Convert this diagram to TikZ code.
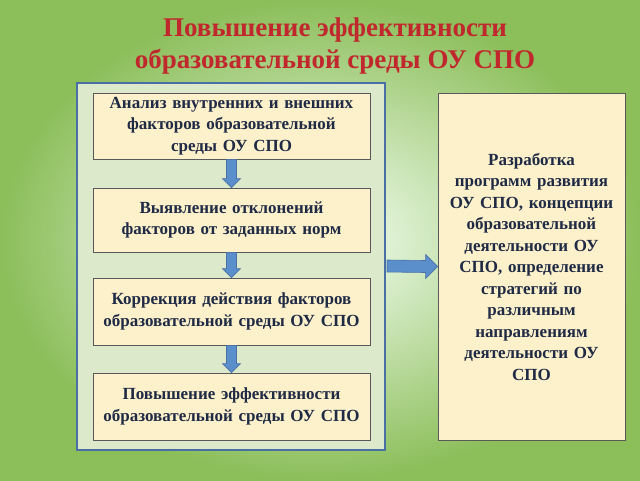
\documentclass[tikz,border=0pt]{standalone}
\usepackage{fontspec}
\setmainfont{Liberation Serif}
\usetikzlibrary{arrows.meta}
\definecolor{titlered}{HTML}{C0282D}
\definecolor{navytext}{HTML}{1F2A44}
\definecolor{boxfill}{HTML}{FDF1CC}
\definecolor{framegreen}{HTML}{DCEACB}
\definecolor{frameblue}{HTML}{4A6FA5}
\definecolor{arrowblue}{HTML}{5B8FCB}

\begin{document}
\begin{tikzpicture}[x=1pt,y=-1pt,
  stepbox/.style={draw=gray!70!black,fill=boxfill,line width=0.8pt,minimum width=277pt,
    text width=274pt,align=center,font=\bfseries\fontsize{17}{21.5}\selectfont,text=navytext,inner sep=0pt},
  downarrow/.style={draw=frameblue,line width=0.6pt,fill=arrowblue}]
\useasboundingbox (0,0) rectangle (640,480);
\shade[inner color=green!4!white,outer color={rgb,255:red,140;green,190;blue,90}] (0,0) rectangle (640,480);

\node[font=\bfseries\fontsize{27}{32}\selectfont,text=titlered,align=center] (title) at (335,46)
  {Повышение эффективности\\образовательной среды ОУ СПО};

\draw[frameblue,line width=2pt,fill=framegreen] (77,83) rectangle (385,450);

\node[stepbox,minimum height=66pt] (b1) at (231.5,126) {Анализ внутренних и внешних\\факторов образовательной\\среды ОУ СПО};
\node[stepbox,minimum height=64pt] (b2) at (231.5,220) {Выявление отклонений\\факторов от заданных норм};
\node[stepbox,minimum height=67pt] (b3) at (231.5,311.5) {Коррекция действия факторов\\образовательной среды ОУ СПО};
\node[stepbox,minimum height=67pt] (b4) at (231.5,406.5) {Повышение эффективности\\образовательной среды ОУ СПО};
\node[stepbox,minimum width=187pt,text width=184pt,minimum height=347pt] (plan) at (531.5,266.5)
  {Разработка\\программ развития\\ОУ СПО, концепции\\образовательной\\деятельности ОУ\\СПО, определение\\стратегий по\\различным\\направлениям\\деятельности ОУ\\СПО};

% block arrows
\foreach \a/\b in {b1/b2,b2/b3,b3/b4}{
  \draw[downarrow] ([xshift=-5pt]\a.south) -- ([xshift=5pt]\a.south) -- ([xshift=5pt,yshift=9pt]\b.north)
    -- ([xshift=9pt,yshift=9pt]\b.north) -- (\b.north) -- ([xshift=-9pt,yshift=9pt]\b.north)
    -- ([xshift=-5pt,yshift=9pt]\b.north) -- cycle;
}
\coordinate (tail) at (387,266);
\draw[downarrow] ([yshift=-6pt]tail) -- ([xshift=-12pt,yshift=-6pt]plan.west) -- ([xshift=-12pt,yshift=-12pt]plan.west)
  -- (plan.west) -- ([xshift=-12pt,yshift=12pt]plan.west) -- ([xshift=-12pt,yshift=6pt]plan.west)
  -- ([yshift=6pt]tail) -- cycle;
\end{tikzpicture}
\end{document}
